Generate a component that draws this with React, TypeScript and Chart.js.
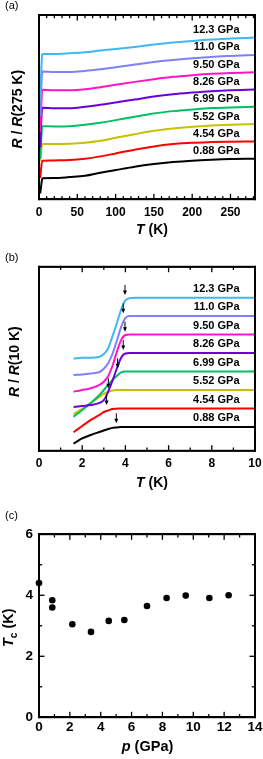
import React, { useEffect, useRef } from 'react';
import { Chart, registerables } from 'chart.js';

Chart.register(...registerables);

const FONT = "'Liberation Sans', Arial, Helvetica, sans-serif";
Chart.defaults.font.family = FONT;
Chart.defaults.color = '#000';

// ---------- shared series info ----------
const pressureLabels = ['12.3 GPa', '11.0 GPa', '9.50 GPa', '8.26 GPa', '6.99 GPa', '5.52 GPa', '4.54 GPa', '0.88 GPa'];
const curveColors = ['#3db8f5', '#8080ff', '#ff14c8', '#6a00dc', '#00c060', '#c8c000', '#ff0000', '#000000'];
const curveOffsets = [1.4, 1.2, 1.0, 0.8, 0.6, 0.4, 0.2, 0];

// ---------- panel (a): R / R(275 K) ----------
const tempA = [1.6, 4.2, 5, 20, 40, 60, 80, 100, 125, 150, 175, 200, 225, 250, 282];
const ratioA_123 = [0.276, 0.805, 0.811, 0.811, 0.819, 0.830, 0.850, 0.869, 0.892, 0.919, 0.942, 0.961, 0.977, 0.988, 1.0];
const ratioA_110 = [0.293, 0.800, 0.807, 0.803, 0.803, 0.815, 0.834, 0.857, 0.888, 0.919, 0.942, 0.961, 0.977, 0.988, 1.0];
const ratioA_950 = [0.304, 0.790, 0.796, 0.792, 0.792, 0.803, 0.827, 0.854, 0.888, 0.919, 0.946, 0.965, 0.981, 0.992, 1.0];
const ratioA_826 = [0.329, 0.785, 0.788, 0.784, 0.784, 0.800, 0.823, 0.850, 0.884, 0.919, 0.946, 0.965, 0.981, 0.992, 1.0];
const ratioA_699 = [0.397, 0.770, 0.776, 0.773, 0.776, 0.792, 0.815, 0.846, 0.884, 0.923, 0.950, 0.969, 0.985, 0.992, 1.0];
const ratioA_552 = [0.575, 0.767, 0.769, 0.769, 0.773, 0.784, 0.807, 0.842, 0.884, 0.923, 0.950, 0.969, 0.985, 0.992, 1.0];
const ratioA_454 = [0.577, 0.775, 0.777, 0.780, 0.784, 0.800, 0.827, 0.861, 0.904, 0.942, 0.969, 0.985, 0.992, 0.996, 1.0];
const ratioA_088 = [0.600, 0.765, 0.773, 0.776, 0.788, 0.803, 0.838, 0.869, 0.908, 0.938, 0.961, 0.977, 0.988, 0.996, 1.0];
const ratioA = [ratioA_123, ratioA_110, ratioA_950, ratioA_826, ratioA_699, ratioA_552, ratioA_454, ratioA_088];
const xTicksA = { min: 0, max: 282, step: 50, minor: 10 };
const yRangeA = { min: 0.531, max: 2.661 };

// ---------- panel (b): R / R(10 K) ----------
const tempB = [1.6, 2.0, 2.4, 2.8, 3.0, 3.2, 3.4, 3.6, 3.8, 4.0, 4.2, 4.5, 5, 6, 7, 8, 9, 10];
const ratioB_123 = [0.34, 0.35, 0.35, 0.36, 0.39, 0.45, 0.58, 0.72, 0.87, 0.97, 0.995, 1, 1, 1, 1, 1, 1, 1];
const ratioB_110 = [0.363, 0.368, 0.379, 0.395, 0.43, 0.49, 0.59, 0.73, 0.88, 0.98, 1, 1, 1, 1, 1, 1, 1, 1];
const ratioB_950 = [0.382, 0.40, 0.42, 0.455, 0.49, 0.55, 0.66, 0.81, 0.94, 0.995, 1, 1, 1, 1, 1, 1, 1, 1];
const ratioB_826 = [0.416, 0.427, 0.438, 0.46, 0.49, 0.58, 0.70, 0.83, 0.95, 0.995, 1, 1, 1, 1, 1, 1, 1, 1];
const ratioB_699 = [0.511, 0.584, 0.66, 0.746, 0.80, 0.855, 0.909, 0.952, 0.99, 1, 1, 1, 1, 1, 1, 1, 1, 1];
const ratioB_552 = [0.74, 0.795, 0.86, 0.925, 0.957, 0.98, 0.995, 1, 1, 1, 1, 1, 1, 1, 1, 1, 1, 1];
const ratioB_454 = [0.743, 0.81, 0.876, 0.93, 0.962, 0.978, 0.995, 0.998, 1, 1, 1, 1, 1, 1, 1, 1, 1, 1];
const ratioB_088 = [0.82, 0.876, 0.913, 0.946, 0.962, 0.978, 0.99, 0.995, 1, 1, 1, 1, 1, 1, 1, 1, 1, 1];
const ratioB = [ratioB_123, ratioB_110, ratioB_950, ratioB_826, ratioB_699, ratioB_552, ratioB_454, ratioB_088];
const arrowT = [3.98, 3.9, 3.98, 3.9, 3.64, 3.21, 3.13, 3.58];
const arrowTip = [2.429, 2.23, 2.031, 1.833, 1.635, 1.419, 1.238, 1.04];
const xTicksB = { min: 0, max: 10, step: 2, minor: 1 };
const yRangeB = { min: 0.743, max: 2.735 };

// ---------- panel (c): Tc vs p ----------
const pressureC = [0, 0.86, 0.86, 2.16, 3.37, 4.52, 5.53, 7.0, 8.27, 9.51, 11.04, 12.29];
const tcC = [4.40, 3.84, 3.60, 3.05, 2.80, 3.16, 3.19, 3.65, 3.91, 3.99, 3.91, 4.00];
const xTicksC = { min: 0, max: 14, step: 2, minor: 1 };
const yTicksC = { min: 0, max: 6, step: 2, minor: 1 };

type Seg = { t: string; it?: boolean; sub?: boolean };

function segFont(s: Seg, size: number) {
  const sz = s.sub ? size * 0.7 : size;
  return `${s.it ? 'italic ' : ''}bold ${sz}px ${FONT}`;
}

function drawRich(ctx: CanvasRenderingContext2D, segs: Seg[], x: number, y: number, size: number, rotate: boolean) {
  ctx.translate(x, y);
  if (rotate) ctx.rotate(-Math.PI / 2);
  ctx.textBaseline = 'alphabetic';
  ctx.textAlign = 'left';
  ctx.fillStyle = '#000';
  const widths = segs.map((s) => {
    ctx.font = segFont(s, size);
    return ctx.measureText(s.t).width;
  });
  let total = 0;
  widths.forEach((w) => (total += w));
  let cx = -total / 2;
  segs.forEach((s, i) => {
    ctx.font = segFont(s, size);
    ctx.fillText(s.t, cx, s.sub ? size * 0.28 : 0);
    cx += widths[i];
  });
}

function drawTickMarks(ctx: CanvasRenderingContext2D, scale: any, spec: any, horizontal: boolean, area: any) {
  const n = Math.round((spec.max - spec.min) / spec.minor);
  for (let i = 0; i <= n; i++) {
    const v = spec.min + i * spec.minor;
    const r = v / spec.step;
    const major = Math.abs(r - Math.round(r)) < 1e-6;
    const len = major ? 5.5 : 3.2;
    const p = scale.getPixelForValue(v);
    if (horizontal) {
      ctx.fillRect(p - 0.65, area.bottom - len, 1.3, len);
      ctx.fillRect(p - 0.65, area.top, 1.3, len);
    } else {
      ctx.fillRect(area.left, p - 0.65, len, 1.3);
      ctx.fillRect(area.right - len, p - 0.65, len, 1.3);
    }
  }
}

function makeDecor(o: any) {
  return {
    id: 'decor',
    afterDraw(chart: any) {
      const ctx: CanvasRenderingContext2D = chart.ctx;
      const a = chart.chartArea;
      const xsc = chart.scales.x;
      const ysc = chart.scales.y;
      const safe = (fn: () => void) => {
        ctx.save();
        try {
          ctx.fillStyle = '#000';
          ctx.strokeStyle = '#000';
          fn();
        } catch (e) {
          // ignore
        }
        ctx.restore();
      };
      // frame
      safe(() => {
        ctx.fillRect(a.left - 0.9, a.top - 0.9, a.right - a.left + 1.8, 1.8);
        ctx.fillRect(a.left - 0.9, a.bottom - 0.9, a.right - a.left + 1.8, 1.8);
        ctx.fillRect(a.left - 0.9, a.top - 0.9, 1.8, a.bottom - a.top + 1.8);
        ctx.fillRect(a.right - 0.9, a.top - 0.9, 1.8, a.bottom - a.top + 1.8);
      });
      // inward ticks
      safe(() => {
        if (o.xTicks) drawTickMarks(ctx, xsc, o.xTicks, true, a);
        if (o.yTicks) drawTickMarks(ctx, ysc, o.yTicks, false, a);
      });
      // panel letter
      safe(() => {
        ctx.font = `11px ${FONT}`;
        ctx.textAlign = 'left';
        ctx.textBaseline = 'middle';
        ctx.fillText(o.panel, 5, o.panelY);
      });
      // axis titles
      safe(() => drawRich(ctx, o.xTitle, o.xTitleX, o.xTitleY, o.titleSize, false));
      safe(() => drawRich(ctx, o.yTitle, o.yTitleX, (a.top + a.bottom) / 2 + (o.yTitleShift || 0), o.titleSize, true));
      // series labels
      if (o.seriesLabels) {
        safe(() => {
          ctx.font = `bold 11px ${FONT}`;
          ctx.textAlign = 'right';
          ctx.textBaseline = 'middle';
          chart.data.datasets.forEach((ds: any) => {
            const last = ds.data[ds.data.length - 1];
            const py = ysc.getPixelForValue(last.y) + o.labelShift;
            ctx.fillText(ds.label, o.labelX, py);
          });
        });
      }
      // Tc arrows
      if (o.arrows) {
        safe(() => {
          o.arrows.t.forEach((t: number, i: number) => {
            const px = xsc.getPixelForValue(t);
            const py = ysc.getPixelForValue(o.arrows.v[i]);
            ctx.fillRect(px - 0.5, py - 10, 1, 7);
            ctx.beginPath();
            ctx.moveTo(px - 2, py - 4.5);
            ctx.lineTo(px + 2, py - 4.5);
            ctx.lineTo(px, py);
            ctx.closePath();
            ctx.fill();
          });
        });
      }
    },
  };
}

function curveDatasets(temps: number[], ratios: number[][]) {
  return pressureLabels.map((lab, i) => ({
    label: lab,
    data: temps.map((t, j) => ({ x: t, y: ratios[i][j] + curveOffsets[i] })),
    borderColor: curveColors[i],
    borderWidth: 2,
    pointRadius: 0,
    cubicInterpolationMode: 'monotone',
  }));
}

const BORDER = { display: true, width: 1.8, color: '#000' };

function xScale(h: number, areaBottom: number, xs: any, tickSize: number, tickPad: number) {
  return {
    type: 'linear',
    min: xs.min,
    max: xs.max,
    grid: { display: false, drawTicks: false },
    border: BORDER,
    ticks: {
      stepSize: xs.step,
      includeBounds: false,
      padding: tickPad,
      font: { size: tickSize, weight: 'bold' },
    },
    afterFit: (s: any) => {
      s.height = h - areaBottom;
      s.paddingLeft = 0;
      s.paddingRight = 0;
    },
  };
}

function frameScales(xs: any, yr: any) {
  return {
    x2: {
      type: 'linear',
      axis: 'x',
      position: 'top',
      min: xs.min,
      max: xs.max,
      grid: { display: false, drawTicks: false },
      border: BORDER,
      ticks: { display: false },
      afterFit: (s: any) => {
        s.height = 0;
        s.paddingLeft = 0;
        s.paddingRight = 0;
      },
    },
    y2: {
      type: 'linear',
      axis: 'y',
      position: 'right',
      min: yr.min,
      max: yr.max,
      grid: { display: false, drawTicks: false },
      border: BORDER,
      ticks: { display: false },
      afterFit: (s: any) => {
        s.width = 0;
      },
    },
  };
}

function hiddenY(range: any) {
  return {
    type: 'linear',
    min: range.min,
    max: range.max,
    grid: { display: false, drawTicks: false },
    border: BORDER,
    ticks: { display: false },
    afterFit: (s: any) => {
      s.width = 39;
    },
  };
}

function commonOptions(areaTop: number, scales: any): any {
  return {
    responsive: false,
    maintainAspectRatio: false,
    animation: false,
    layout: { padding: { top: areaTop, right: 8, left: 0, bottom: 0 } },
    plugins: { legend: { display: false }, tooltip: { enabled: false } },
    scales,
  };
}

function configA(): any {
  return {
    type: 'line',
    data: { datasets: curveDatasets(tempA, ratioA) },
    options: commonOptions(15, { x: xScale(250, 199.3, xTicksA, 12, 6), y: hiddenY(yRangeA), ...frameScales(xTicksA, yRangeA) }),
    plugins: [
      makeDecor({
        panel: '(a)',
        panelY: 6,
        xTicks: { min: xTicksA.min, max: 280, step: xTicksA.step, minor: xTicksA.minor },
        xTitle: [{ t: 'T', it: true }, { t: ' (K)' }],
        xTitleX: 152,
        xTitleY: 234,
        yTitle: [{ t: 'R', it: true }, { t: ' / ' }, { t: 'R', it: true }, { t: '(275 K)' }],
        yTitleX: 22,
        yTitleShift: 2,
        titleSize: 14,
        seriesLabels: true,
        labelX: 239.5,
        labelShift: -7.5,
      }),
    ],
  };
}

function configB(): any {
  return {
    type: 'line',
    data: { datasets: curveDatasets(tempB, ratioB) },
    options: commonOptions(16.7, { x: xScale(256, 200.7, xTicksB, 12, 6), y: hiddenY(yRangeB), ...frameScales(xTicksB, yRangeB) }),
    plugins: [
      makeDecor({
        panel: '(b)',
        panelY: 8,
        xTicks: xTicksB,
        xTitle: [{ t: 'T', it: true }, { t: ' (K)' }],
        xTitleX: 152,
        xTitleY: 237,
        yTitle: [{ t: 'R', it: true }, { t: ' / ' }, { t: 'R', it: true }, { t: '(10 K)' }],
        yTitleX: 19,
        yTitleShift: 3,
        titleSize: 14,
        seriesLabels: true,
        labelX: 239.5,
        labelShift: -9,
        arrows: { t: arrowT, v: arrowTip },
      }),
    ],
  };
}

function configC(): any {
  const y = {
    type: 'linear',
    min: yTicksC.min,
    max: yTicksC.max,
    grid: { display: false, drawTicks: false },
    border: BORDER,
    ticks: {
      stepSize: yTicksC.step,
      padding: 6,
      font: { size: 13.5, weight: 'bold' },
    },
    afterFit: (s: any) => {
      s.width = 39;
    },
  };
  return {
    type: 'scatter',
    data: {
      datasets: [
        {
          label: 'Tc',
          data: pressureC.map((p, i) => ({ x: p, y: tcC[i] })),
          backgroundColor: '#000',
          borderColor: '#000',
          pointRadius: 3.3,
          pointBorderWidth: 0,
          showLine: false,
          clip: false,
        },
      ],
    },
    options: commonOptions(28.3, { x: xScale(253, 211.3, xTicksC, 13.5, 2), y, ...frameScales(xTicksC, yTicksC) }),
    plugins: [
      makeDecor({
        panel: '(c)',
        panelY: 10,
        xTicks: xTicksC,
        yTicks: yTicksC,
        xTitle: [{ t: 'p', it: true }, { t: ' (GPa)' }],
        xTitleX: 147.5,
        xTitleY: 245,
        yTitle: [{ t: 'T', it: true }, { t: 'c', sub: true }, { t: ' (K)' }],
        yTitleX: 13,
        yTitleShift: 2,
        titleSize: 14.5,
      }),
    ],
  };
}

export default function App() {
  const refA = useRef<HTMLCanvasElement>(null);
  const refB = useRef<HTMLCanvasElement>(null);
  const refC = useRef<HTMLCanvasElement>(null);

  useEffect(() => {
    const charts = [
      new Chart(refA.current as HTMLCanvasElement, configA()),
      new Chart(refB.current as HTMLCanvasElement, configB()),
      new Chart(refC.current as HTMLCanvasElement, configC()),
    ];
    return () => charts.forEach((c) => c.destroy());
  }, []);

  return (
    <div style={{ position: 'absolute', left: 0, top: 0, width: 263, height: 759, background: '#fff' }}>
      <canvas ref={refA} width={263} height={250} style={{ position: 'absolute', left: 0, top: 0, width: 263, height: 250 }} />
      <canvas ref={refB} width={263} height={256} style={{ position: 'absolute', left: 0, top: 250, width: 263, height: 256 }} />
      <canvas ref={refC} width={263} height={253} style={{ position: 'absolute', left: 0, top: 506, width: 263, height: 253 }} />
    </div>
  );
}
